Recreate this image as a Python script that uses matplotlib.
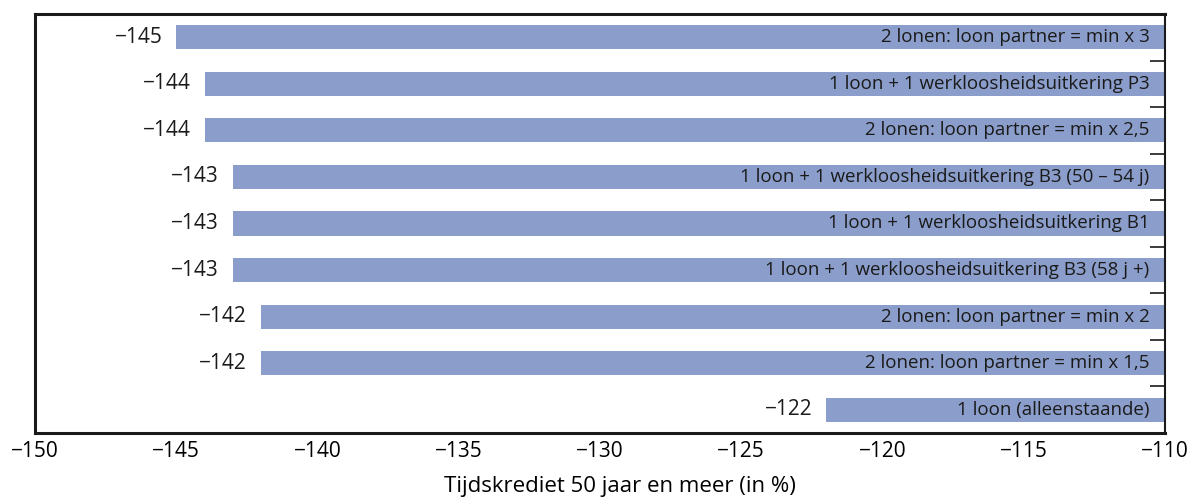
import matplotlib.pyplot as plt

plt.rcParams['font.family'] = ['Open Sans', 'DejaVu Sans']

categories = [
    "2 lonen: loon partner = min x 3",
    "1 loon + 1 werkloosheidsuitkering P3",
    "2 lonen: loon partner = min x 2,5",
    "1 loon + 1 werkloosheidsuitkering B3 (50 \u2013 54 j)",
    "1 loon + 1 werkloosheidsuitkering B1",
    "1 loon + 1 werkloosheidsuitkering B3 (58 j +)",
    "2 lonen: loon partner = min x 2",
    "2 lonen: loon partner = min x 1,5",
    "1 loon (alleenstaande)",
]
values = [-145, -144, -144, -143, -143, -143, -142, -142, -122]
base = -110

fig = plt.figure(figsize=(11.94, 4.99), dpi=100)
ax = fig.add_axes([35 / 1194, 1 - 433 / 499, 1130 / 1194, 419 / 499])

y = list(range(len(values)))
ax.barh(y, [v - base for v in values], left=base, height=0.52, color='#8b9dca')

for i, (v, lab) in enumerate(zip(values, categories)):
    ax.annotate(lab, (base, i), xytext=(-11, 0), textcoords='offset points',
                ha='right', va='center', fontsize=13.5, color='#1a1a1a')
    ax.annotate(f"\u2212{abs(v)}", (v, i), xytext=(-10, 0), textcoords='offset points',
                ha='right', va='center', fontsize=15, color='#1a1a1a')

ax.set_xlim(-150, -110)
ax.set_ylim(8.5, -0.5)
ax.set_xticks(range(-150, -109, 5))
ax.tick_params(axis='x', length=0, labelsize=15, pad=6)
ax.set_xlabel("Tijdskrediet 50 jaar en meer (in %)", fontsize=16)
ax.xaxis.set_label_coords(0.518, -0.128)
ax.xaxis.label.set_va('center')

ax.yaxis.tick_right()
ax.set_yticks([i + 0.5 for i in range(len(values) - 1)])
ax.set_yticklabels([])
ax.tick_params(axis='y', direction='in', length=11, width=1.2, color='#1a1a1a')

for s in ['left', 'top', 'bottom']:
    ax.spines[s].set_linewidth(2.2)
    ax.spines[s].set_color('#1a1a1a')
ax.spines['right'].set_linewidth(1.5)
ax.spines['right'].set_color('#1a1a1a')

fig.savefig('out.png', dpi=100)
